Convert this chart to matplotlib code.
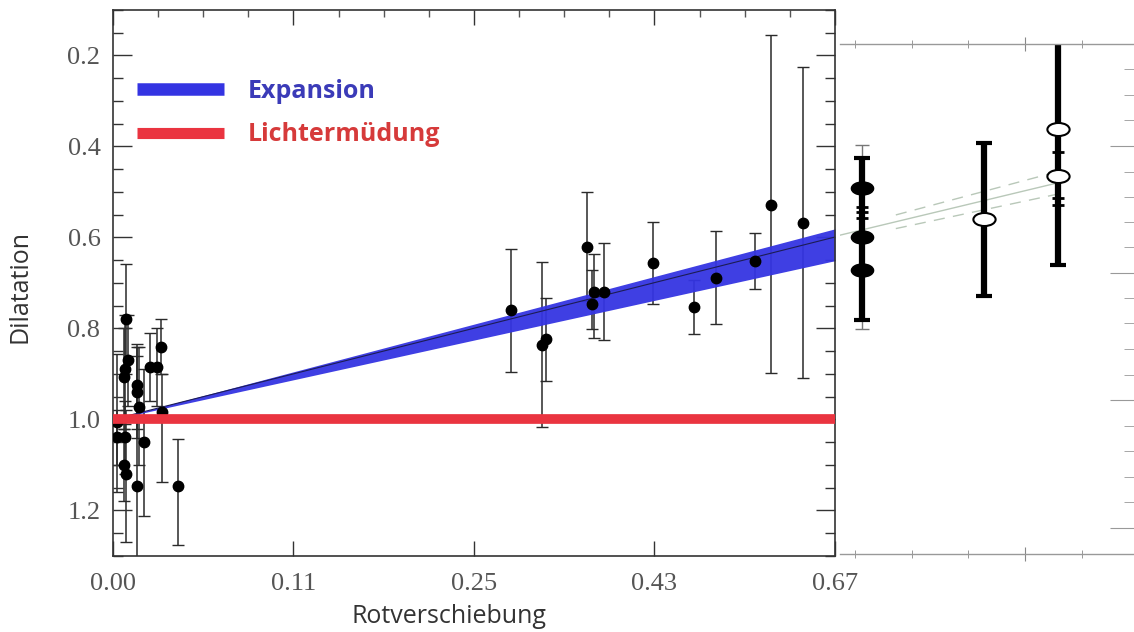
import numpy as np
import matplotlib.pyplot as plt
from matplotlib.ticker import FixedLocator
from matplotlib.path import Path
from matplotlib.transforms import Affine2D

plt.rcParams['font.family'] = ['Liberation Serif', 'DejaVu Serif']

# --- Messpunkte (Rotverschiebung z, Dilatation, Fehlerbalken oben/unten) ---
z_low = [0.0021, 0.0067, 0.0071, 0.0082, 0.0067, 0.0061, 0.0061, 0.0072, 0.0135, 0.0136,
         0.0148, 0.0136, 0.0209, 0.0248, 0.0273, 0.0277, 0.0176, 0.0375, 0.0021]
d_low = [1.039, 1.039, 0.779, 0.870, 0.889, 0.907, 1.101, 1.119, 0.925, 0.940,
         0.973, 1.147, 0.885, 0.885, 0.840, 0.984, 1.050, 1.147, 1.005]
d_low_min = [0.98, 0.96, 0.659, 0.77, 0.77, 0.80, 1.02, 0.98, 0.834, 0.84,
             0.84, 0.86, 0.81, 0.80, 0.78, 0.90, 0.888, 1.043, 0.855]
d_low_max = [1.10, 1.12, 0.90, 0.97, 1.01, 1.02, 1.18, 1.27, 1.02, 1.04,
             1.10, 1.45, 0.96, 0.97, 0.90, 1.138, 1.213, 1.275, 1.16]

z_high = [0.2829, 0.3115, 0.3153, 0.3561, 0.3609, 0.3630, 0.3740, 0.4266, 0.4747,
          0.5020, 0.5516, 0.5733, 0.6193]
d_high = [0.759, 0.836, 0.824, 0.620, 0.746, 0.719, 0.720, 0.656, 0.753,
          0.688, 0.652, 0.528, 0.568]
d_high_min = [0.625, 0.654, 0.733, 0.499, 0.671, 0.636, 0.612, 0.566, 0.693,
              0.586, 0.591, 0.156, 0.226]
d_high_max = [0.896, 1.017, 0.916, 0.740, 0.801, 0.821, 0.826, 0.746, 0.813,
              0.790, 0.714, 0.897, 0.908]

# Modelle
band_z = [0.0, 2 / 3]
band_top = [1.0, 0.581]
band_bot = [1.0, 0.651]
model_d = [1.0, 0.599]
tired_z = [0.0, 2 / 3]
tired_d = [1.0, 1.0]

x_tick_labels = ['0.00', '0.11', '0.25', '0.43', '0.67']
y_ticks = [0.2, 0.4, 0.6, 0.8, 1.0, 1.2]

# rechtes Bildfragment
rp_x = [0.076, 0.491, 0.742]
rp_bar_top = [0.427, 0.393, 0.16]
rp_bar_bot = [0.782, 0.730, 0.662]
rp_filled_y = [0.493, 0.599, 0.673]
rp_open_x = [0.491, 0.742, 0.742]
rp_open_y = [0.561, 0.363, 0.465]
rp_small_x = [0.076, 0.076, 0.076, 0.742, 0.742, 0.742]
rp_small_y = [0.533, 0.544, 0.559, 0.4125, 0.515, 0.53]
rp_right_ticks = [0.2314, 0.2879, 0.3429, 0.4565, 0.5114, 0.5664, 0.6213, 0.7347, 0.7897,
                  0.8468, 0.9033, 1.0154, 1.0703, 1.1268, 1.1818]
rp_right_major = [0.3989, 0.6798, 0.9582, 1.2402]


def to_a(z):
    return 1 - 1 / (1 + np.asarray(z, dtype=float))


def from_a(a):
    return 1 / (1 - np.asarray(a, dtype=float)) - 1


z_all = np.array(z_low + z_high)
d_all = np.array(d_low + d_high)
d_min = np.array(d_low_min + d_high_min)
d_max = np.array(d_low_max + d_high_max)

fig = plt.figure(figsize=(11.34, 6.32), dpi=100)
ax = fig.add_axes([0.0996, 0.1203, 0.6367, 0.8639])
ax.set_xscale('function', functions=(to_a, from_a))
ax.set_xlim(0, 2 / 3)
ax.set_ylim(1.3, 0.1)

ax.errorbar(z_all, d_all, yerr=[d_all - d_min, d_max - d_all], fmt='none',
            ecolor='#2a2a2a', elinewidth=1.1, capsize=4, capthick=1, zorder=1)
ax.fill_between(band_z, band_top, band_bot, color='#3434e2', alpha=0.95, lw=0, zorder=2)
ax.plot(band_z, model_d, color='#1c1c55', lw=0.8, zorder=2.5)
ax.plot(z_all, d_all, 'o', color='black', ms=7.5, zorder=3)
ax.plot(tired_z, tired_d, color='#ea3440', lw=7, solid_capstyle='butt', zorder=4)

ax.set_xticks(from_a([0.0, 0.1, 0.2, 0.3, 0.4]))
ax.set_xticklabels(x_tick_labels)
ax.xaxis.set_minor_locator(FixedLocator(from_a(np.arange(0, 0.401, 0.025))))
ax.set_yticks(y_ticks)
ax.set_yticklabels(['%.1f' % v for v in y_ticks])
ax.yaxis.set_minor_locator(FixedLocator(np.arange(0.1, 1.31, 0.05)))

ax.tick_params(axis='x', which='major', direction='in', length=11, width=1,
               top=True, bottom=True, color='#333', labelsize=19, labelcolor='#555', pad=12)
ax.tick_params(axis='x', which='minor', direction='in', length=5, width=1,
               top=True, bottom=False, color='#555')
ax.tick_params(axis='y', which='major', direction='in', length=14, width=1,
               left=True, right=True, color='#333', labelsize=19, labelcolor='#555', pad=9)
ax.tick_params(axis='y', which='minor', direction='in', length=7, width=1,
               left=True, right=True, color='#333')
for s in ax.spines.values():
    s.set_color('#333')
    s.set_linewidth(1.2)

ax.set_xlabel('Rotverschiebung', fontfamily='Open Sans', fontsize=18, color='#333')
ax.xaxis.set_label_coords(0.465, -0.088)
ax.set_ylabel('Dilatation', fontfamily='Open Sans', fontsize=18, color='#333')
ax.yaxis.set_label_coords(-0.112, 0.494)

# Legende
ax.plot([0.0332, 0.1537], [0.8548, 0.8548], transform=ax.transAxes, color='#3434e2',
        lw=9, solid_capstyle='butt')
ax.plot([0.0332, 0.1537], [0.7753, 0.7753], transform=ax.transAxes, color='#ea3440',
        lw=8, solid_capstyle='butt')
ax.text(0.187, 0.8515, 'Expansion', transform=ax.transAxes, va='center',
        fontfamily='Open Sans', fontweight='bold', fontsize=18, color='#3b3bb8')
ax.text(0.187, 0.7715, 'Lichtermüdung', transform=ax.transAxes, va='center',
        fontfamily='Open Sans', fontweight='bold', fontsize=18, color='#d63a3a')

# rechtes Fragment
ax2 = fig.add_axes([0.7407, 0.1234, 0.2593, 0.807])
ax2.patch.set_alpha(0)
ax2.set_xlim(0, 1)
ax2.set_ylim(1.2967, 0.1758)
for side in ['left', 'right']:
    ax2.spines[side].set_visible(False)
for side in ['top', 'bottom']:
    ax2.spines[side].set_color('#999')
    ax2.spines[side].set_linewidth(1)

ax2.set_xticks([0.629])
ax2.xaxis.set_minor_locator(FixedLocator([0.051, 0.245, 0.435, 0.823]))
ax2.tick_params(axis='x', which='major', direction='inout', length=10, color='#888',
                top=True, bottom=True, labelbottom=False)
ax2.tick_params(axis='x', which='minor', direction='inout', length=6, color='#888',
                top=True, bottom=True)
ax2.set_yticks(rp_right_major)
ax2.yaxis.set_minor_locator(FixedLocator(rp_right_ticks))
ax2.tick_params(axis='y', which='major', direction='in', length=17, color='#999',
                left=False, right=True, labelleft=False)
ax2.tick_params(axis='y', which='minor', direction='in', length=7, color='#999',
                left=False, right=True)

ax2.plot([0.0, 0.76], [0.596, 0.478], color='#b9c8b9', lw=1)
ax2.plot([0.19, 0.76], [0.5515, 0.453], color='#b9c8b9', lw=1, ls=(0, (8, 6)))
ax2.plot([0.19, 0.76], [0.5815, 0.503], color='#b9c8b9', lw=1, ls=(0, (8, 6)))

ax2.errorbar([rp_x[0]], [0.60], yerr=[[0.60 - 0.398], [0.802 - 0.60]], fmt='none',
             ecolor='#777', elinewidth=1, capsize=5, capthick=1)
rp_mid = (np.array(rp_bar_top) + np.array(rp_bar_bot)) / 2
ax2.errorbar(rp_x, rp_mid, yerr=[rp_mid - np.array(rp_bar_top), np.array(rp_bar_bot) - rp_mid],
             fmt='none', ecolor='black', elinewidth=4.5, capsize=6, capthick=3)
ellipse = Path.unit_circle().transformed(Affine2D().scale(1.7, 1.0))
ax2.plot([rp_x[0]] * len(rp_filled_y), rp_filled_y, ls='none', marker=ellipse, ms=16,
         color='black')
ax2.plot(rp_small_x, rp_small_y, ls='none', marker='_', ms=8, mew=2, color='black')
ax2.plot(rp_open_x, rp_open_y, ls='none', marker=ellipse, ms=16, mfc='white',
         mec='black', mew=1.5)

fig.savefig('out.png', dpi=100)
